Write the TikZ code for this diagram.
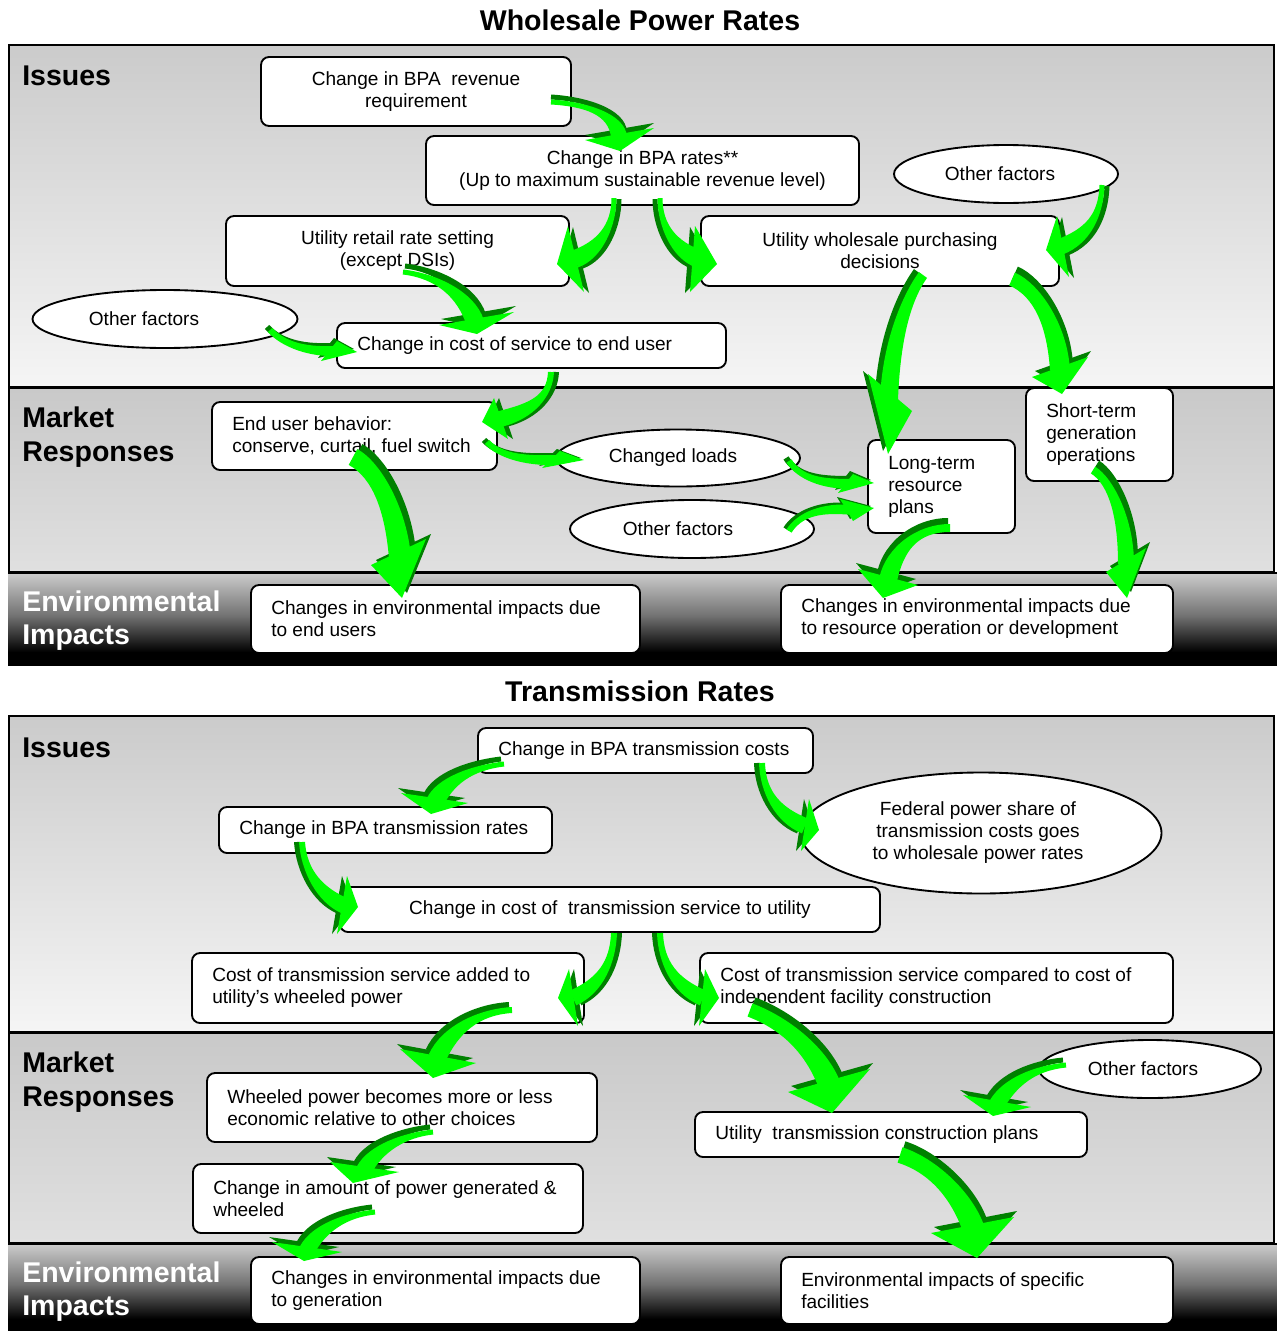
\documentclass[tikz,border=0pt]{standalone}
\usepackage{fontspec}
\setmainfont{Liberation Sans}
\usetikzlibrary{calc,shapes.geometric}
\definecolor{glight}{HTML}{00FF00}
\definecolor{gdark}{HTML}{008000}
\definecolor{issTop}{HTML}{CBCBCB}
\definecolor{issBot}{HTML}{F5F5F5}
\definecolor{mkTop}{HTML}{C9C9C9}
\definecolor{mkBot}{HTML}{E0E0E0}
\pgfdeclareverticalshading{envsh}{100bp}{color(0bp)=(black); color(25bp)=(black); color(32bp)=(black); color(52bp)=(black!55); color(75bp)=(black!20); color(100bp)=(black!20)}
\newcommand\bodyfnt{\fontsize{14.3pt}{16.5pt}\selectfont}
\newcommand\labfnt{\fontsize{21.4pt}{25pt}\selectfont\bfseries}
% left-aligned rounded box
\newcommand\lbox[6]{%
 \pgfmathsetmacro\rbw{(#4-#2)*0.75}%
 \pgfmathsetmacro\rbh{(#5-#3)*0.75}%
 \node[rbx, minimum width=\rbw pt, minimum height=\rbh pt] (#1) at ({(#2+#4)/2},{(#3+#5)/2}) {};
 \node[txt, anchor=west, align=left] (#1-t) at ({#2+20},{(#3+#5)/2}) {#6};}
% centred rounded box
\newcommand\cbox[6]{%
 \pgfmathsetmacro\rbw{(#4-#2)*0.75}%
 \pgfmathsetmacro\rbh{(#5-#3)*0.75}%
 \node[rbx, align=center, minimum width=\rbw pt, minimum height=\rbh pt] (#1) at ({(#2+#4)/2},{(#3+#5)/2}) {#6};}
% ellipse: name cx cy w h text-x text
\newcommand\ebox[7]{%
 \pgfmathsetmacro\rbw{#4*0.75}%
 \pgfmathsetmacro\rbh{#5*0.75}%
 \node[ell, minimum width=\rbw pt, minimum height=\rbh pt] (#1) at (#2,#3) {};
 \node[txt, align=center] (#1-t) at (#6,#3) {#7};}
% 3-D green block arrow: shift, S, C1, C2, E, tail width, end width, head path
\newcommand\garrow[8]{%
 \pgfmathsetmacro\gwa{#6*0.375}%
 \pgfmathsetmacro\gwb{#7*0.375}%
 \coordinate (gS) at #2;
 \coordinate (gA) at #3;
 \coordinate (gB) at #4;
 \coordinate (gE) at #5;
 \coordinate (gSl) at ($(gS)!\gwa pt!90:(gA)$);
 \coordinate (gSr) at ($(gS)!\gwa pt!-90:(gA)$);
 \coordinate (gEl) at ($(gE)!\gwb pt!-90:(gB)$);
 \coordinate (gEr) at ($(gE)!\gwb pt!90:(gB)$);
 \coordinate (gAl) at ($(gA)+(gSl)-(gS)$);
 \coordinate (gAr) at ($(gA)+(gSr)-(gS)$);
 \coordinate (gBl) at ($(gB)+(gEl)-(gE)$);
 \coordinate (gBr) at ($(gB)+(gEr)-(gE)$);
 \begin{scope}[transform canvas={shift={#1}}]
  \fill[gdark] (gSl) .. controls (gAl) and (gBl) .. (gEl) -- (gEr) .. controls (gBr) and (gAr) .. (gSr) -- cycle;
  \fill[gdark] #8 -- cycle;
 \end{scope}
 \fill[glight] (gSl) .. controls (gAl) and (gBl) .. (gEl) -- (gEr) .. controls (gBr) and (gAr) .. (gSr) -- cycle;
 \fill[glight] #8 -- cycle;
}
\begin{document}
\begin{tikzpicture}[x=0.75pt,y=-0.75pt,
  bd/.style={draw=black, line width=1.6pt},
  rbx/.style={draw=black, fill=white, rounded corners=6pt, line width=1.4pt, inner sep=0pt, font=\bodyfnt},
  ell/.style={ellipse, draw=black, fill=white, line width=1.4pt, inner sep=0pt},
  txt/.style={font=\bodyfnt, inner sep=0pt},
  lab/.style={font=\labfnt, anchor=base west, inner sep=0pt},
  ttl/.style={font=\labfnt, anchor=base, inner sep=0pt}]
\useasboundingbox (0,0) rectangle (1277,1331);
\fill[white] (0,0) rectangle (1277,1331);

% ===== Wholesale Power Rates panel =====
\node[ttl] (title1) at (640,31) {Wholesale Power Rates};
\shade[top color=issTop, bottom color=issBot] (9,45) rectangle (1274,387);
\draw[bd] (9,45) rectangle (1274,387);
\shade[top color=mkTop, bottom color=mkBot] (9,388) rectangle (1274,572);
\draw[bd] (9,388) rectangle (1274,572);
\shade[shading=envsh] (8,573) rectangle (1277,665);
\draw[bd] (8,573) -- (1277,573);
\node[lab] (iss1) at (22,85) {Issues};
\node[lab] (mr1a) at (22,427) {Market};
\node[lab] (mr1b) at (22,461) {Responses};
\node[lab, text=white] (ei1a) at (22,611) {Environmental};
\node[lab, text=white] (ei1b) at (22,644) {Impacts};

\cbox{rev}{261}{57}{571}{126}{Change in BPA\ \ revenue\\requirement}
\cbox{rates}{426}{136}{859}{205}{Change in BPA rates**\\(Up to maximum sustainable revenue level)}
\cbox{retail}{226}{216}{569}{286}{Utility retail rate setting\\(except DSIs)}
\cbox{wholesale}{701}{216}{1059}{286}{Utility wholesale purchasing\\decisions}
\lbox{cost}{337}{323}{726}{368}{Change in cost of service to end user}
\lbox{enduser}{212}{402}{497}{470}{End user behavior:\\conserve, curtail, fuel switch}
\lbox{ltrp}{868}{440}{1015}{533}{Long-term\\resource\\plans}
\lbox{strm}{1026}{388}{1173}{481}{Short-term\\generation\\operations}
\lbox{envA}{251}{585}{640}{653}{Changes in environmental impacts due\\to end users}
\lbox{envB}{781}{585}{1173}{653}{Changes in environmental impacts due\\to resource operation or development}
\ebox{ofa}{1006}{174}{224}{58}{1000}{Other factors}
\ebox{ofb}{165}{319}{265}{58}{144}{Other factors}
\ebox{loads}{678}{458}{244}{57}{673}{Changed loads}
\ebox{ofc}{692}{529}{244}{58}{678}{Other factors}

% arrows (top)
\garrow{(0,-5)}{(551,102)}{(585,104)}{(617,114)}{(619,137)}{5}{16}{(585,140)--(620,151)--(654,128)}
\garrow{(5,1)}{(614,198)}{(614,225)}{(600,250)}{(575,259)}{5}{18}{(568,226)--(557,264)--(584,292)}
\garrow{(-5,1)}{(660,198)}{(660,225)}{(674,250)}{(699,259)}{5}{18}{(695,226)--(717,264)--(690,292)}
\garrow{(5,1)}{(1102,185)}{(1101,215)}{(1088,236)}{(1060,247)}{5}{16}{(1057,216)--(1046,250)--(1069,277)}
\garrow{(-5,-3)}{(923,275)}{(905,300)}{(891,345)}{(889,400)}{10}{18}{(868,374)--(888,454)--(912,411)}
\garrow{(3,-6)}{(1012,279)}{(1037,290)}{(1057,325)}{(1060,370)}{14}{20}{(1032,377)--(1062,394)--(1088,357)}
\garrow{(4,-6)}{(1093,470)}{(1112,482)}{(1126,520)}{(1126,564)}{8}{16}{(1106,572)--(1127,598)--(1146,548)}
\garrow{(-2,-6)}{(950,528)}{(918,528)}{(895,548)}{(888,580)}{8}{18}{(858,569)--(883,598)--(918,585)}
\garrow{(2,-6)}{(403,272)}{(437,276)}{(466,295)}{(475,322)}{5}{18}{(439,325)--(477,334)--(514,312)}
\garrow{(-3,-3)}{(270,330)}{(285,346)}{(310,352)}{(336,351)}{6}{10}{(337,341)--(357,352)--(321,361)}
\garrow{(5,0)}{(551,372)}{(550,396)}{(532,411)}{(500,419)}{6}{16}{(494,398)--(482,422)--(508,439)}
\garrow{(-3,-2)}{(487,442)}{(500,456)}{(525,461)}{(556,460)}{6}{10}{(560,451)--(584,460)--(542,468)}
\garrow{(5,-5)}{(353,457)}{(377,470)}{(396,510)}{(400,558)}{18}{22}{(371,565)--(402,598)--(426,539)}
\garrow{(-3,-3)}{(789,461)}{(800,478)}{(822,484)}{(851,484)}{6}{10}{(853,474)--(874,483)--(838,493)}
\garrow{(-3,-2)}{(789,531)}{(800,514)}{(822,507)}{(853,510)}{6}{10}{(840,499)--(874,508)--(853,521)}

% ===== Transmission Rates panel =====
\node[ttl] (title2) at (640,701) {Transmission Rates};
\shade[top color=issTop, bottom color=issBot] (9,716) rectangle (1274,1032);
\draw[bd] (9,716) rectangle (1274,1032);
\shade[top color=mkTop, bottom color=mkBot] (9,1033) rectangle (1274,1243);
\draw[bd] (9,1033) rectangle (1274,1243);
\shade[shading=envsh] (8,1244) rectangle (1277,1331);
\draw[bd] (8,1244) -- (1277,1244);
\node[lab] (iss2) at (22,757) {Issues};
\node[lab] (mr2a) at (22,1072) {Market};
\node[lab] (mr2b) at (22,1106) {Responses};
\node[lab, text=white] (ei2a) at (22,1282) {Environmental};
\node[lab, text=white] (ei2b) at (22,1315) {Impacts};

\lbox{tcost}{478}{728}{813}{773}{Change in BPA transmission costs}
\lbox{trates}{219}{807}{552}{853}{Change in BPA transmission rates}
\ebox{fed}{981}{833}{361}{121}{978}{Federal power share of\\transmission costs goes\\to wholesale power rates}
\cbox{tsvc}{340}{887}{880}{932}{Change in cost of\ \ transmission service to utility}
\lbox{added}{192}{953}{584}{1023}{Cost of transmission service added to\\utility’s wheeled power}
\lbox{compared}{700}{953}{1173}{1023}{Cost of transmission service compared to cost of\\independent facility construction}
\lbox{wheeled}{207}{1073}{597}{1142}{Wheeled power becomes more or less\\economic relative to other choices}
\ebox{ofd}{1150}{1069}{222}{58}{1143}{Other factors}
\lbox{utcp}{695}{1112}{1087}{1157}{Utility\ \ transmission construction plans}
\lbox{amount}{193}{1164}{583}{1233}{Change in amount of power generated \&\\wheeled}
\lbox{envC}{251}{1257}{640}{1324}{Changes in environmental impacts due\\to generation}
\lbox{envD}{781}{1257}{1173}{1324}{Environmental impacts of specific\\facilities}

% arrows (bottom)
\garrow{(-3,-5)}{(504,764)}{(470,768)}{(445,782)}{(435,802)}{5}{18}{(401,793)--(431,814)--(468,803)}
\garrow{(-5,0)}{(762,763)}{(763,792)}{(778,815)}{(805,826)}{6}{16}{(809,799)--(819,830)--(801,851)}
\garrow{(-5,0)}{(302,842)}{(304,871)}{(320,895)}{(345,906)}{6}{16}{(347,876)--(358,907)--(337,934)}
\garrow{(5,0)}{(614,933)}{(613,962)}{(600,986)}{(573,998)}{6}{16}{(569,969)--(558,998)--(578,1026)}
\garrow{(-5,0)}{(660,933)}{(661,962)}{(675,986)}{(703,998)}{6}{16}{(705,969)--(719,998)--(699,1026)}
\garrow{(-3,-5)}{(512,1010)}{(478,1012)}{(450,1030)}{(437,1058)}{6}{18}{(400,1049)--(433,1078)--(476,1063)}
\garrow{(3,-6)}{(750,1010)}{(787,1024)}{(817,1052)}{(830,1086)}{14}{22}{(788,1092)--(832,1113)--(870,1069)}
\garrow{(-3,-5)}{(1066,1065)}{(1035,1068)}{(1010,1082)}{(997,1104)}{5}{16}{(963,1095)--(993,1116)--(1031,1107)}
\garrow{(3,-6)}{(900,1155)}{(932,1165)}{(962,1195)}{(974,1230)}{16}{22}{(931,1233)--(977,1258)--(1014,1217)}
\garrow{(-3,-5)}{(433,1132)}{(405,1135)}{(376,1148)}{(364,1170)}{5}{16}{(330,1162)--(353,1183)--(399,1172)}
\garrow{(-3,-5)}{(375,1212)}{(346,1215)}{(319,1228)}{(307,1250)}{5}{16}{(272,1242)--(304,1261)--(342,1252)}
\end{tikzpicture}
\end{document}
